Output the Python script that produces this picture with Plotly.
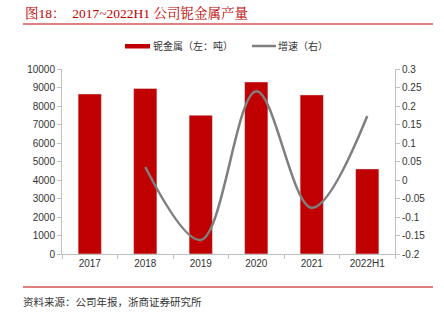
import plotly.graph_objects as go

categories = ["2017", "2018", "2019", "2020", "2021", "2022H1"]
output_t = [8650, 8950, 7500, 9300, 8600, 4600]
growth = [None, 0.035, -0.162, 0.24, -0.075, 0.173]
left_ticks = [0, 1000, 2000, 3000, 4000, 5000, 6000, 7000, 8000, 9000, 10000]
left_labels = [str(v) for v in left_ticks]
right_ticks = [-0.2, -0.15, -0.1, -0.05, 0, 0.05, 0.1, 0.15, 0.2, 0.25, 0.3]
right_labels = ["-0.2", "-0.15", "-0.1", "-0.05", "0", "0.05", "0.1", "0.15", "0.2", "0.25", "0.3"]

L, R, T, B = 62, 395, 69, 254
PW, PH = R - L, B - T


def px(x):
    return (x - L) / PW


def py(y):
    return (B - y) / PH


fig = go.Figure()
fig.add_trace(go.Bar(x=categories, y=output_t, name="铌金属（左：吨）",
                     marker_color="#c00000", width=0.42, yaxis="y"))
fig.add_trace(go.Scatter(x=categories, y=growth, name="增速（右）", mode="lines",
                         line=dict(color="#7f7f7f", width=2.5, shape="spline", smoothing=1.0),
                         yaxis="y2", connectgaps=False))

tick_font = dict(family="Liberation Sans, Arial", size=10, color="#333")
fig.update_layout(
    width=444, height=323,
    margin=dict(l=L, r=444 - R, t=T, b=323 - B),
    paper_bgcolor="white", plot_bgcolor="white",
    showlegend=False,
    xaxis=dict(type="category", showline=True, linecolor="#bfbfbf", linewidth=1,
               ticks="outside", tickcolor="#bfbfbf", ticklen=4, tickfont=tick_font,
               showgrid=False, tickson="boundaries"),
    yaxis=dict(range=[0, 10000], tickvals=left_ticks, ticktext=left_labels, showline=True,
               linecolor="#bfbfbf", ticks="outside", tickcolor="#bfbfbf", ticklen=4,
               tickfont=tick_font, showgrid=False, zeroline=False),
    yaxis2=dict(range=[-0.2, 0.3], tickvals=right_ticks, ticktext=right_labels,
                overlaying="y", side="right", showline=True, linecolor="#bfbfbf",
                ticks="outside", tickcolor="#bfbfbf", ticklen=4, tickfont=tick_font,
                showgrid=False, zeroline=False),
)

# title
fig.add_annotation(xref="paper", yref="paper", xanchor="left", yanchor="middle",
                   x=px(23), y=py(13),
                   text="图18：  2017~2022H1 公司铌金属产量", showarrow=False,
                   font=dict(family="Liberation Serif, Noto Serif CJK SC, Noto Sans CJK SC",
                             size=13.5, color="#c00000"))
fig.add_shape(type="line", xref="paper", yref="paper",
              x0=px(23), x1=px(433), y0=py(24), y1=py(24),
              line=dict(color="#c00000", width=1))
fig.add_shape(type="line", xref="paper", yref="paper",
              x0=px(23), x1=px(433), y0=py(287), y1=py(287),
              line=dict(color="#c00000", width=1))
fig.add_annotation(xref="paper", yref="paper", xanchor="left", yanchor="middle",
                   x=px(21), y=py(301),
                   text="资料来源：公司年报，浙商证券研究所", showarrow=False,
                   font=dict(family="Noto Sans CJK SC", size=10.5, color="#333"))

# legend (manual)
fig.add_shape(type="rect", xref="paper", yref="paper",
              x0=px(125), x1=px(150), y0=py(48.5), y1=py(44),
              fillcolor="#c00000", line=dict(width=0))
fig.add_annotation(xref="paper", yref="paper", xanchor="left", yanchor="middle",
                   x=px(151), y=py(46), text="铌金属（左：吨）", showarrow=False,
                   font=dict(family="Noto Sans CJK SC", size=10, color="#333"))
fig.add_shape(type="line", xref="paper", yref="paper",
              x0=px(252), x1=px(276), y0=py(46), y1=py(46),
              line=dict(color="#7f7f7f", width=2.5))
fig.add_annotation(xref="paper", yref="paper", xanchor="left", yanchor="middle",
                   x=px(276), y=py(46), text="增速（右）", showarrow=False,
                   font=dict(family="Noto Sans CJK SC", size=10, color="#333"))

fig.write_html("out.html")
